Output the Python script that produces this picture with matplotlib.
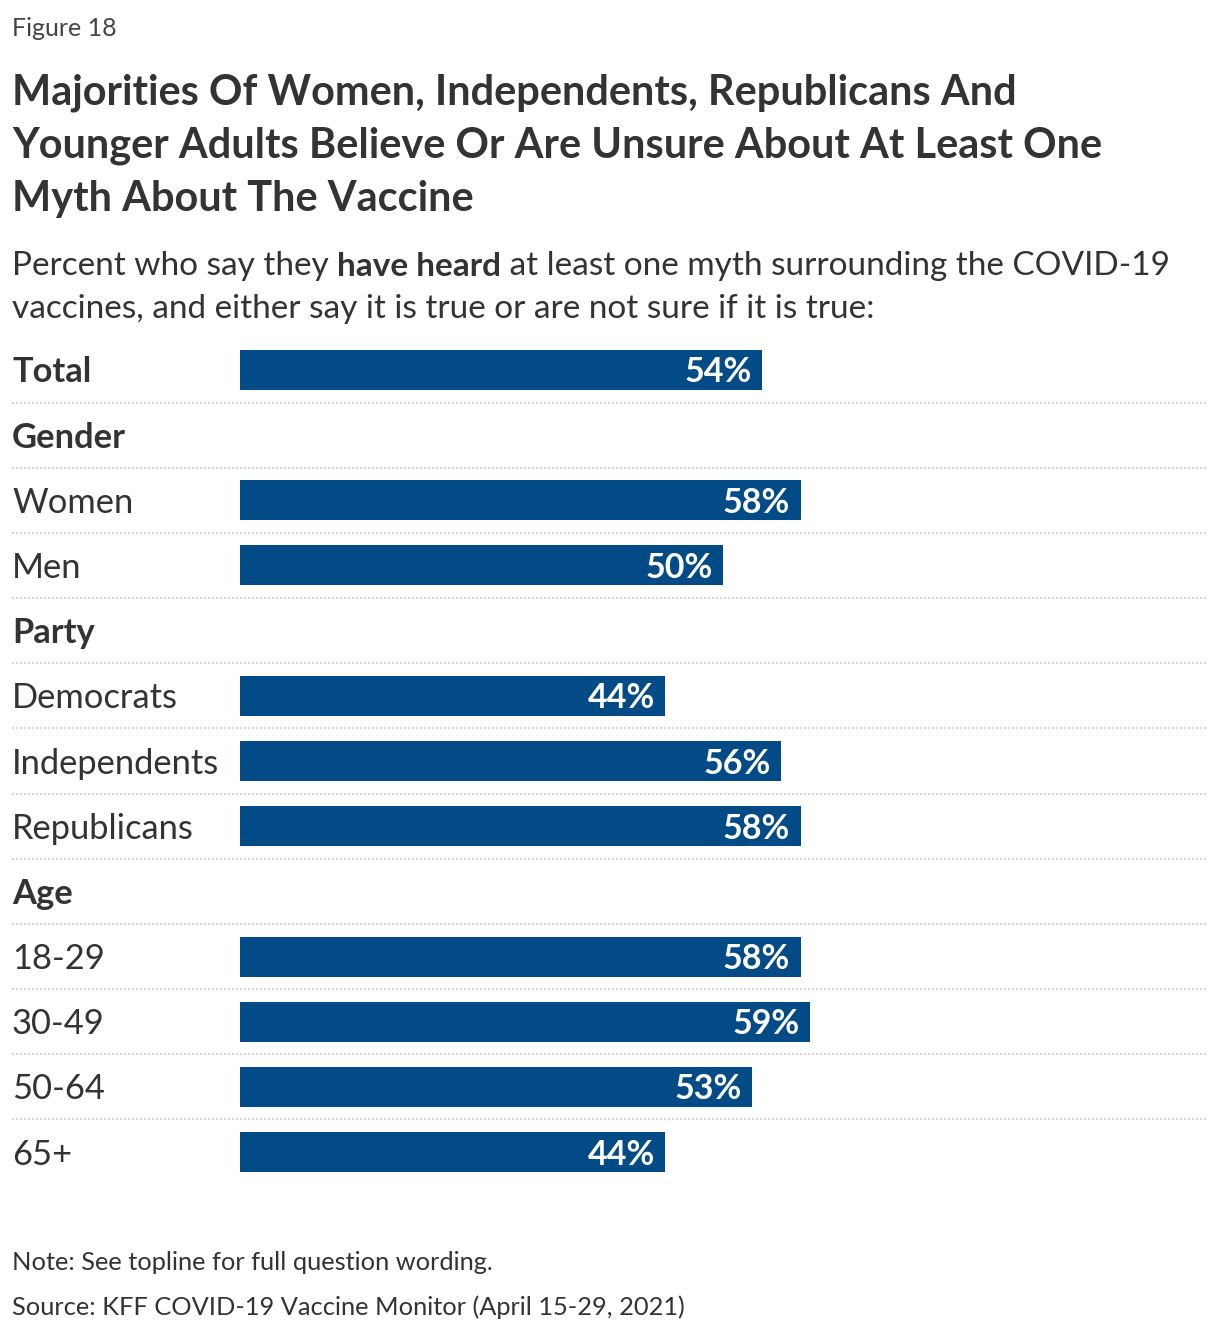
import matplotlib
matplotlib.use("Agg")
import matplotlib.pyplot as plt
import matplotlib.transforms as mtransforms

categories = ["Total", "Gender", "Women", "Men", "Party", "Democrats", "Independents",
              "Republicans", "Age", "18-29", "30-49", "50-64", "65+"]
values = [54, None, 58, 50, None, 44, 56, 58, None, 58, 59, 53, 44]
bold_rows = ["Total", "Gender", "Party", "Age"]

FONT = "Lato"
TXT = "#333333"
BAR = "#034b87"
W, H = 1220, 1334
fig = plt.figure(figsize=(W / 100, H / 100), dpi=100)

def fx(px):
    return px / W

def fy(py):
    return 1 - py / H

ax_left, ax_right = 240, 1208
ax_top, ax_bot = 337.4, 1184.6
ax = fig.add_axes([fx(ax_left), fy(ax_bot), fx(ax_right - ax_left), (ax_bot - ax_top) / H])
n = len(categories)
ax.set_ylim(n - 0.5, -0.5)
ax.set_xlim(0, 100.14)
ax.axis("off")

down = mtransforms.ScaledTranslation(0, -2.5 / 100, fig.dpi_scale_trans)

for i, (c, v) in enumerate(zip(categories, values)):
    if v is not None:
        ax.barh(i, v, height=0.614, color=BAR, left=0)
        ax.text(v - 1.1, i, f"{v}%", ha="right", va="center", color="white",
                fontsize=24.5, fontweight="bold", family=FONT,
                transform=ax.transData + down)

trans = mtransforms.blended_transform_factory(fig.transFigure, ax.transData)
for i, c in enumerate(categories):
    ax.text(fx(12), i, c, transform=trans + down, ha="left", va="center", color=TXT,
            fontsize=24.8, fontweight="bold" if c in bold_rows else "normal", family=FONT)
for i in range(n - 1):
    ax.plot([fx(12), fx(1208)], [i + 0.5, i + 0.5], transform=trans, color="#cfcfcf",
            lw=1.2, ls=(0, (1.2, 1.2)), clip_on=False)

fig.text(fx(12), fy(28), "Figure 18", ha="left", va="center", color="#444444",
         fontsize=18, family=FONT)
title_lines = ["Majorities Of Women, Independents, Republicans And",
               "Younger Adults Believe Or Are Unsure About At Least One",
               "Myth About The Vaccine"]
for k, line in enumerate(title_lines):
    fig.text(fx(12), fy(93 + 53 * k), line, ha="left", va="center", color=TXT,
             fontsize=29.9, fontweight="bold", family=FONT)

sub_y1 = fy(266)
t1 = fig.text(fx(12), sub_y1, "Percent who say they ", ha="left", va="center",
              color=TXT, fontsize=24, family=FONT)
fig.canvas.draw()
r = fig.canvas.get_renderer()
bb = t1.get_window_extent(r)
t2 = fig.text(bb.x1 / W, sub_y1, "have heard", ha="left", va="center",
              color=TXT, fontsize=24, fontweight="bold", family=FONT)
bb2 = t2.get_window_extent(r)
fig.text(bb2.x1 / W, sub_y1, " at least one myth surrounding the COVID-19",
         ha="left", va="center", color=TXT, fontsize=24, family=FONT)
fig.text(fx(12), fy(309), "vaccines, and either say it is true or are not sure if it is true:",
         ha="left", va="center", color=TXT, fontsize=24, family=FONT)

fig.text(fx(12), fy(1263), "Note: See topline for full question wording.", ha="left",
         va="center", color=TXT, fontsize=18.3, family=FONT)
fig.text(fx(12), fy(1307), "Source: KFF COVID-19 Vaccine Monitor (April 15-29, 2021)", ha="left",
         va="center", color=TXT, fontsize=18.3, family=FONT)

fig.savefig("out.png", dpi=100, facecolor="white")
